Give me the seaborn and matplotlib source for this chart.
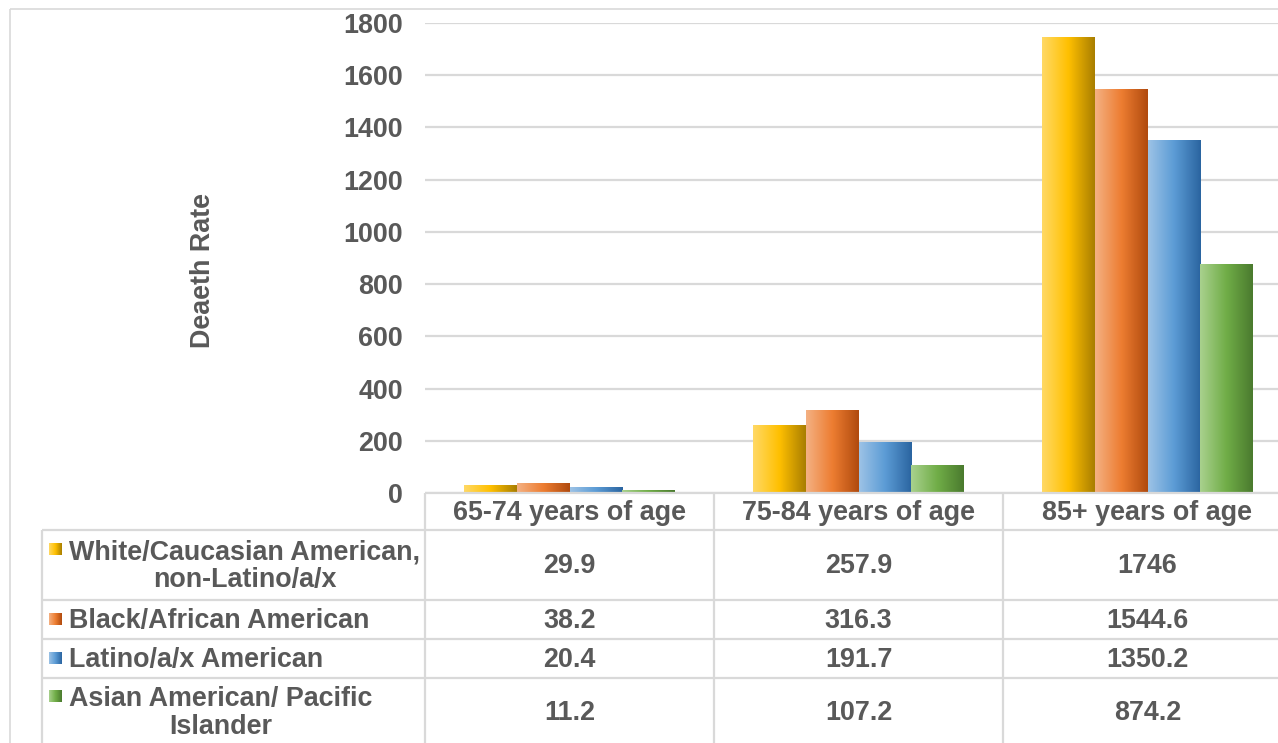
import numpy as np
import pandas as pd
import matplotlib
matplotlib.use("Agg")
import matplotlib.pyplot as plt
import seaborn as sns
from matplotlib.colors import LinearSegmentedColormap
from matplotlib.lines import Line2D

# ---- data -------------------------------------------------------------
age_groups = ["65-74 years of age", "75-84 years of age", "85+ years of age"]
series_names = [
    "White/Caucasian American,\nnon-Latino/a/x",
    "Black/African American",
    "Latino/a/x American",
    "Asian American/ Pacific\nIslander",
]
white_rates = [29.9, 257.9, 1746]
black_rates = [38.2, 316.3, 1544.6]
latino_rates = [20.4, 191.7, 1350.2]
asian_rates = [11.2, 107.2, 874.2]
y_ticks = [0, 200, 400, 600, 800, 1000, 1200, 1400, 1600, 1800]
y_label = "Deaeth Rate"

# light -> base -> dark stops for each series' horizontal gradient
gradients = [
    ["#FFD966", "#FFC000", "#A87E00"],
    ["#F4B183", "#ED7D31", "#B04A0E"],
    ["#9DC3E6", "#5B9BD5", "#2A64A0"],
    ["#A9D18E", "#70AD47", "#4A7A2E"],
]

all_rates = [white_rates, black_rates, latino_rates, asian_rates]
df = pd.DataFrame(
    [(age, name, v)
     for name, rates in zip(series_names, all_rates)
     for age, v in zip(age_groups, rates)],
    columns=["age", "group", "rate"],
)

# ---- figure -----------------------------------------------------------
W, H = 1278, 743
TXT = "#595959"
GRID = "#D9D9D9"
FS = 19.4

sns.set_theme(style="white")
plt.rcParams["font.family"] = ["Liberation Sans", "DejaVu Sans"]
plt.rcParams["font.weight"] = "bold"

fig = plt.figure(figsize=(W / 100, H / 100), dpi=100)
fig.patch.set_facecolor("white")

# plot area (the rightmost category extends a little past the canvas)
ax = fig.add_axes([425 / W, 250 / H, 867 / W, 470 / H])
sns.barplot(
    data=df, x="age", y="rate", hue="group", order=age_groups,
    hue_order=series_names, palette=[g[1] for g in gradients],
    width=0.73, legend=False, ax=ax, saturation=1, edgecolor="none",
)

grad = np.linspace(0, 1, 256).reshape(1, -1)
cmaps = [LinearSegmentedColormap.from_list(f"g{i}", g) for i, g in enumerate(gradients)]
for container, cmap in zip(ax.containers, cmaps):
    for bar in container:
        x0, y0 = bar.get_x(), bar.get_y()
        w, h = bar.get_width(), bar.get_height()
        ax.imshow(grad, cmap=cmap, extent=[x0, x0 + w, y0, y0 + h],
                  aspect="auto", interpolation="bicubic", zorder=2)
        bar.set_facecolor("none")

ax.set_xlim(-0.5, 2.5)
ax.set_ylim(0, 1800)
ax.set_yticks(y_ticks)
ax.set_yticklabels([str(t) for t in y_ticks], color=TXT, fontsize=FS, fontweight="bold")
ax.tick_params(axis="y", length=0, pad=16)
ax.tick_params(axis="x", length=0, labelbottom=False)
ax.set_xlabel("")
ax.set_ylabel("")
ax.set_axisbelow(True)
ax.yaxis.grid(True, color=GRID, lw=1.6)
ax.set_facecolor("white")
for s in ax.spines.values():
    s.set_visible(False)

fig.text(203 / W, 1 - 270 / H, y_label, rotation=90, ha="center", va="center",
         color=TXT, fontsize=FS, fontweight="bold")

# ---- data table beneath the plot --------------------------------------
tab = fig.add_axes([0, 0, 1, 1], facecolor="none")
tab.set_xlim(0, W)
tab.set_ylim(H, 0)
tab.axis("off")


def hline(y, x0, x1, lw=1.6):
    tab.add_line(Line2D([x0, x1], [y, y], color=GRID, lw=lw, solid_capstyle="butt"))


def vline(x, y0, y1, lw=1.6):
    tab.add_line(Line2D([x, x], [y0, y1], color=GRID, lw=lw, solid_capstyle="butt"))


# outer chart frame
hline(9, 10, W, lw=1.2)
vline(10, 9, H, lw=1.2)

# column edges follow the category positions of the plot
col_edges = [ax.transData.transform((x, 0))[0] for x in (-0.5, 0.5, 1.5, 2.5)]
col_centers = [ax.transData.transform((x, 0))[0] for x in range(len(age_groups))]

header_top, header_bot = 493, 530
row_edges = [530, 600, 639, 678, 760]
table_left = 42

hline(header_top, col_edges[0], W)
for y in row_edges[:-1]:
    hline(y, table_left, W)
vline(table_left, header_bot, H)
for x in col_edges:
    vline(x, header_top, H)

for cx, lab in zip(col_centers, age_groups):
    tab.text(cx, (header_top + header_bot) / 2 + 1, lab, ha="center", va="center",
             color=TXT, fontsize=FS, fontweight="bold")

row_centers = [565, 620, 659, 712]
key_tops = [543, 613, 652, 690]
for name, rates, g, yc, kt in zip(series_names, all_rates, cmaps, row_centers, key_tops):
    tab.imshow(grad, cmap=g, extent=[49, 62, kt + 12, kt], aspect="auto",
               interpolation="bicubic", zorder=3)
    tab.text(69, yc + 1, name, ha="left", va="center", multialignment="center",
             color=TXT, fontsize=FS, fontweight="bold", linespacing=1.08)
    for cx, v in zip(col_centers, rates):
        tab.text(cx, yc + 1, f"{v:g}", ha="center", va="center",
                 color=TXT, fontsize=FS, fontweight="bold")

tab.set_xlim(0, W)
tab.set_ylim(H, 0)

fig.savefig("out.png", dpi=100, facecolor="white")
